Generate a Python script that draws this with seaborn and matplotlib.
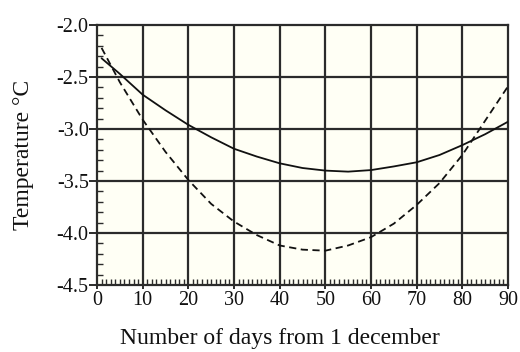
import matplotlib
matplotlib.use("Agg")
import matplotlib.pyplot as plt
import seaborn as sns
import pandas as pd
from matplotlib.ticker import MultipleLocator

days = [1, 5, 10, 15, 20, 25, 30, 35, 40, 45, 50, 55, 60, 65, 70, 75, 80, 85, 90]
solid_temp = [-2.32, -2.47, -2.67, -2.82, -2.96, -3.08, -3.19, -3.265, -3.33, -3.375,
              -3.40, -3.41, -3.395, -3.36, -3.32, -3.25, -3.155, -3.05, -2.93]
dashed_temp = [-2.22, -2.55, -2.91, -3.22, -3.49, -3.72, -3.89, -4.02, -4.12, -4.16,
               -4.17, -4.12, -4.04, -3.91, -3.73, -3.52, -3.25, -2.92, -2.59]
x_ticks = [0, 10, 20, 30, 40, 50, 60, 70, 80, 90]
y_ticks = [-4.5, -4.0, -3.5, -3.0, -2.5, -2.0]
y_tick_labels = ["-4.5", "-4.0", "-3.5", "-3.0", "-2.5", "-2.0"]

sns.set_theme(style="white")
plt.rcParams['font.family'] = ['Liberation Serif', 'DejaVu Serif']

df = pd.DataFrame({
    "day": days * 2,
    "temp": solid_temp + dashed_temp,
    "series": ["solid"] * len(days) + ["dashed"] * len(days),
})

fig = plt.figure(figsize=(5.2, 3.52), dpi=100)
ax = fig.add_axes([97 / 520, 1 - 285 / 352, (508 - 97) / 520, (285 - 25) / 352])
ax.set_facecolor("#fffff5")

gc = "#2b2b2b"
for v in x_ticks[1:-1]:
    ax.axvline(v, color=gc, lw=1.6, zorder=1)
for v in y_ticks[1:-1]:
    ax.axhline(v, color=gc, lw=1.6, zorder=1)

sns.lineplot(data=df, x="day", y="temp", style="series", style_order=["solid", "dashed"],
             dashes={"solid": "", "dashed": (4, 2.5)}, color="#111111", lw=1.3,
             legend=False, ax=ax, zorder=3)

ax.set_xlim(0, 90)
ax.set_ylim(-4.5, -2.0)
ax.set_xticks(x_ticks)
ax.set_yticks(y_ticks)
ax.set_yticklabels(y_tick_labels)
ax.xaxis.set_minor_locator(MultipleLocator(1))
ax.yaxis.set_minor_locator(MultipleLocator(0.1))

ax.tick_params(axis="x", which="major", direction="inout", length=6, width=1.4,
               color=gc, labelsize=14.5, pad=1, labelcolor="#111111")
ax.tick_params(axis="x", which="minor", direction="in", length=4, width=1.0, color=gc)
ax.tick_params(axis="y", which="major", direction="out", length=6, width=1.4,
               color=gc, labelsize=14.5, pad=0, labelcolor="#111111")
ax.tick_params(axis="y", which="minor", direction="in", length=4, width=1.0, color=gc)
ax.tick_params(bottom=True, left=True, which="both")

for s in ax.spines.values():
    s.set_color(gc)
    s.set_linewidth(1.6)

ax.set_xlabel("Number of days from 1 december", fontsize=17, color="#111111")
ax.set_ylabel("Temperature °C", fontsize=17, color="#111111")
ax.xaxis.set_label_coords((280 - 97) / (508 - 97), -(328 - 285) / 260)
ax.yaxis.set_label_coords(-(97 - 34) / (508 - 97), 0.5)

fig.savefig("out.png", dpi=100, facecolor="white")
